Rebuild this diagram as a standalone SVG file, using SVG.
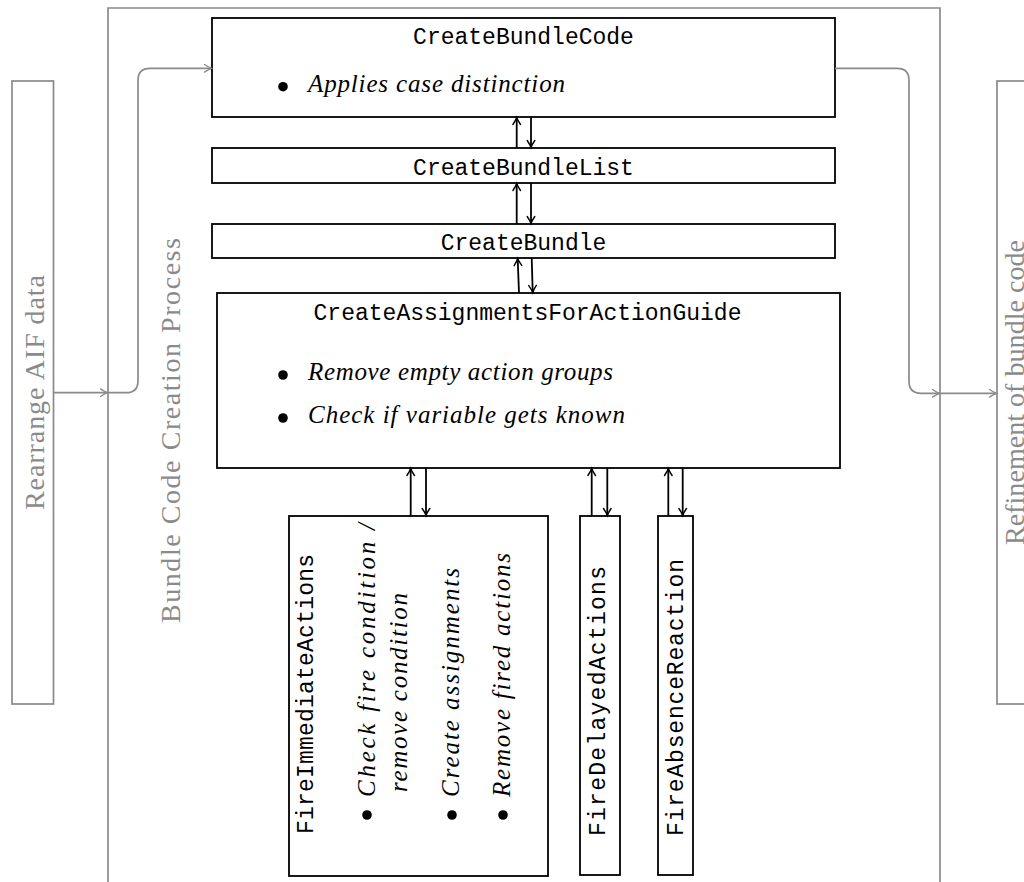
<svg xmlns="http://www.w3.org/2000/svg" width="1024" height="882" viewBox="0 0 1024 882">
<style>
.box{fill:#fff;stroke:#000;stroke-width:1.8}
.gbox{fill:none;stroke:#8a8a8a;stroke-width:1.7}
.tt{font-family:"Liberation Mono",monospace;font-size:23px;fill:#000}
.it{font-family:"Liberation Serif",serif;font-style:italic;font-size:25px;fill:#000}
.gt{font-family:"Liberation Serif",serif;font-size:28px;fill:#8a8a8a}
.blk{stroke:#000;stroke-width:1.8;fill:none;marker-end:url(#ab)}
.gry{stroke:#8a8a8a;stroke-width:1.7;fill:none}
.garr{marker-end:url(#ag)}
</style>
<defs>
<marker id="ab" markerUnits="userSpaceOnUse" viewBox="-8 -5 10 10" refX="0" refY="0" markerWidth="10" markerHeight="10" orient="auto" overflow="visible">
<path d="M-6.5,-3.8 Q-2.5,-1 0.5,0 Q-2.5,1 -6.5,3.8" fill="none" stroke="#000" stroke-width="1.4" stroke-linecap="round"/>
</marker>
<marker id="ag" markerUnits="userSpaceOnUse" viewBox="-8 -5 10 10" refX="0" refY="0" markerWidth="10" markerHeight="10" orient="auto" overflow="visible">
<path d="M-6.5,-3.8 Q-2.5,-1 0.5,0 Q-2.5,1 -6.5,3.8" fill="none" stroke="#8a8a8a" stroke-width="1.3" stroke-linecap="round"/>
</marker>
</defs>

<g id="process">
<path class="gbox" d="M108,890 V8 H940 V890"/>
<text class="gt" transform="translate(180,623) rotate(-90)" textLength="385" lengthAdjust="spacing">Bundle Code Creation Process</text>
</g>

<g id="rearrange">
<rect class="gbox" x="12" y="81" width="41.5" height="623"/>
<text class="gt" transform="translate(43.5,510) rotate(-90)" textLength="235" lengthAdjust="spacing">Rearrange AIF data</text>
</g>

<g id="refinement">
<rect class="gbox" x="997" y="81" width="60" height="623"/>
<text class="gt" transform="translate(1024,545) rotate(-90)" textLength="305" lengthAdjust="spacing">Refinement of bundle code</text>
</g>

<g id="createBundleCode">
<rect class="box" x="212" y="18" width="623" height="99"/>
<text class="tt" x="523.5" y="44" text-anchor="middle">CreateBundleCode</text>
<circle cx="283" cy="86.7" r="4.8"/>
<text class="it" x="308" y="91.7" textLength="257" lengthAdjust="spacing">Applies case distinction</text>
</g>

<g id="createBundleList">
<rect class="box" x="212" y="148" width="623" height="35"/>
<text class="tt" x="523.5" y="175" text-anchor="middle">CreateBundleList</text>
</g>

<g id="createBundle">
<rect class="box" x="212" y="224" width="623" height="34"/>
<text class="tt" x="523.5" y="250" text-anchor="middle">CreateBundle</text>
</g>

<g id="createAssignments">
<rect class="box" x="217" y="293" width="623" height="175"/>
<text class="tt" x="527.5" y="320" text-anchor="middle">CreateAssignmentsForActionGuide</text>
<circle cx="283" cy="375" r="4.8"/>
<text class="it" x="308" y="380" textLength="305" lengthAdjust="spacing">Remove empty action groups</text>
<circle cx="283" cy="418" r="4.8"/>
<text class="it" x="308" y="423.3" textLength="317" lengthAdjust="spacing">Check if variable gets known</text>
</g>

<g id="fireImmediate">
<rect class="box" x="289" y="516" width="259" height="360"/>
<text class="tt" transform="translate(313,834) rotate(-90)" textLength="280" lengthAdjust="spacing">FireImmediateActions</text>
<circle cx="367" cy="815" r="4.8"/>
<text class="it" transform="translate(375,797) rotate(-90)" textLength="274" lengthAdjust="spacing">Check fire condition /</text>
<text class="it" transform="translate(407,792) rotate(-90)" textLength="199" lengthAdjust="spacing">remove condition</text>
<circle cx="452" cy="815" r="4.8"/>
<text class="it" transform="translate(459,797) rotate(-90)" textLength="229" lengthAdjust="spacing">Create assignments</text>
<circle cx="503" cy="815" r="4.8"/>
<text class="it" transform="translate(510,797) rotate(-90)" textLength="244" lengthAdjust="spacing">Remove fired actions</text>
</g>

<g id="fireDelayed">
<rect class="box" x="580" y="516" width="40" height="359"/>
<text class="tt" transform="translate(605,836) rotate(-90)" textLength="270" lengthAdjust="spacing">FireDelayedActions</text>
</g>

<g id="fireAbsence">
<rect class="box" x="658" y="516" width="35" height="359"/>
<text class="tt" transform="translate(682.7,836) rotate(-90)" textLength="277" lengthAdjust="spacing">FireAbsenceReaction</text>
</g>

<g id="connectors">
<path class="gry garr" d="M53.5,392.7 H107"/>
<path class="gry garr" d="M108,392.7 H126 Q138,392.7 138,380.7 V80.3 Q138,68.3 150,68.3 H211"/>
<path class="gry garr" d="M835,68.3 H897 Q909,68.3 909,80.3 V381.3 Q909,393.3 921,393.3 H939"/>
<path class="gry garr" d="M940,393.3 H996"/>

<path class="blk" d="M516.7,148 V118"/>
<path class="blk" d="M531,117 V147"/>
<path class="blk" d="M516.7,224 V184"/>
<path class="blk" d="M531,183 V223"/>
<path class="blk" d="M519,293 L517.7,259"/>
<path class="blk" d="M531.7,258 L532.7,292"/>

<path class="blk" d="M410.7,516 V469"/>
<path class="blk" d="M426,468 V515"/>
<path class="blk" d="M591.7,516 V469"/>
<path class="blk" d="M607.3,468 V515"/>
<path class="blk" d="M668.3,516 V469"/>
<path class="blk" d="M682.7,468 V515"/>
</g>
</svg>
